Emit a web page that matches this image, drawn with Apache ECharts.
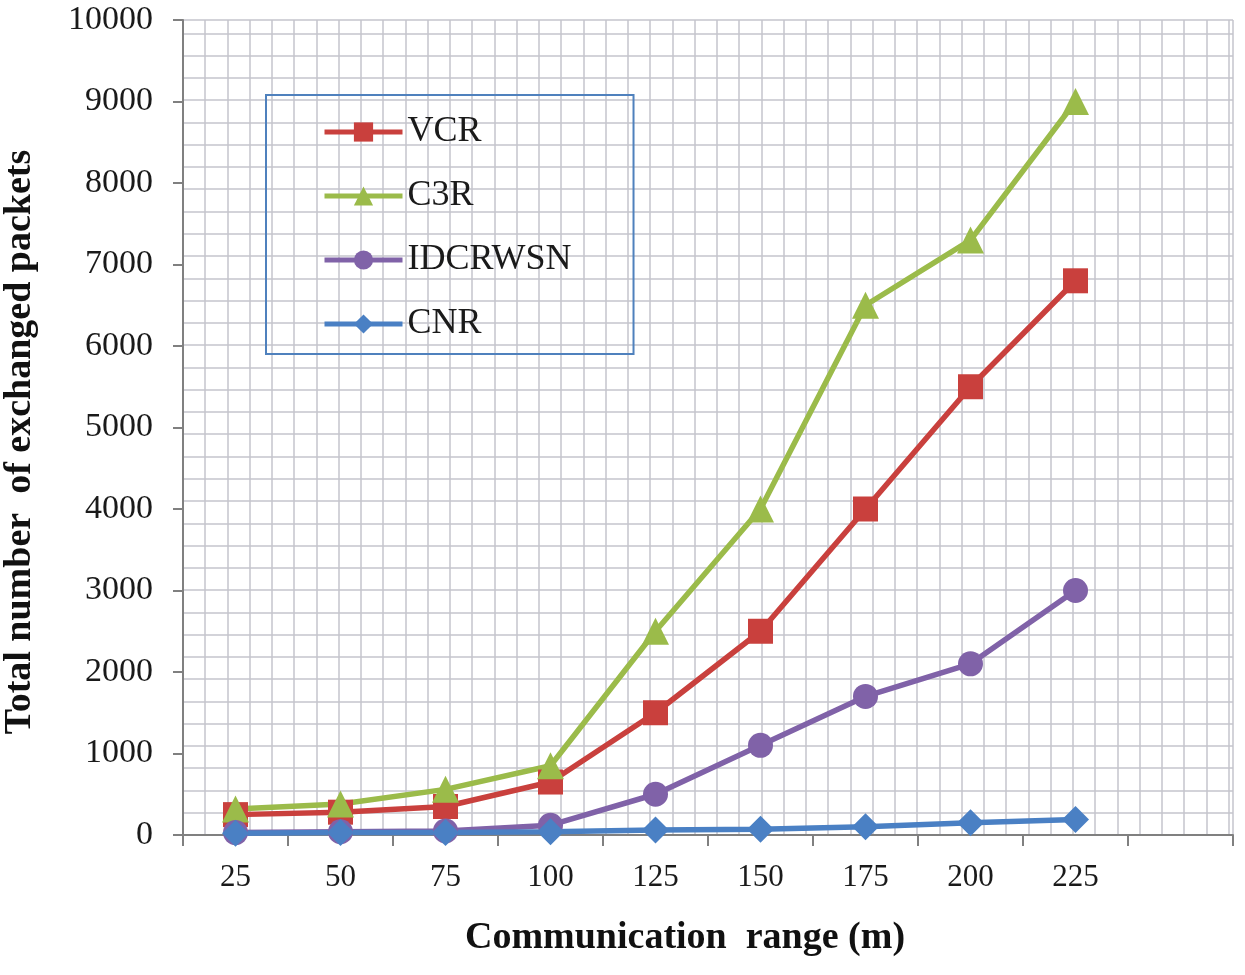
<!DOCTYPE html>
<html>
<head>
<meta charset="utf-8">
<script src="https://cdn.jsdelivr.net/npm/echarts@6/dist/echarts.min.js"></script>
<style>html,body{margin:0;padding:0;background:#fff;}#c{width:1245px;height:975px;}</style>
</head>
<body>
<div id="c"></div>
<script>
var categories = ['25', '50', '75', '100', '125', '150', '175', '200', '225', ''];
var vcr = [250, 280, 350, 650, 1500, 2500, 4000, 5500, 6800];
var c3r = [320, 380, 560, 850, 2500, 4000, 6500, 7300, 9000];
var idcrwsn = [30, 40, 50, 120, 500, 1100, 1700, 2100, 3000];
var cnr = [20, 30, 30, 40, 60, 70, 100, 150, 190];
var yTicks = [0, 1000, 2000, 3000, 4000, 5000, 6000, 7000, 8000, 9000, 10000];

var serif = 'Liberation Serif, Times New Roman, serif';
var chart = echarts.init(document.getElementById('c'));
function ser(name, data, color, symbol, size) {
  return {
    name: name, type: 'line', data: data, xAxisIndex: 0, yAxisIndex: 0,
    symbol: symbol, symbolSize: size,
    lineStyle: {color: color, width: 5.5},
    itemStyle: {color: color},
    emphasis: {disabled: true}
  };
}
chart.setOption({
  animation: false,
  grid: {left: 183, right: 12, top: 20, bottom: 140, containLabel: false, outerBoundsMode: 'none'},
  legend: {
    orient: 'vertical', left: 266, top: 95,
    padding: [19, 62, 12, 56],
    borderColor: '#4f81bd', borderWidth: 2,
    itemWidth: 78, itemHeight: 24, itemGap: 28,
    lineStyle: {width: 5},
    textStyle: {fontFamily: serif, fontSize: 36, lineHeight: 24, color: '#1a1a1a'},
    data: ['VCR', 'C3R', 'IDCRWSN', 'CNR']
  },
  xAxis: [{
    type: 'category', data: categories, boundaryGap: true,
    axisLine: {lineStyle: {color: '#808080', width: 2}},
    axisTick: {show: true, length: 11, interval: 0, lineStyle: {color: '#808080', width: 2}},
    axisLabel: {fontFamily: serif, fontSize: 31, color: '#1a1a1a', margin: 27, interval: 0},
    splitLine: {show: false},
    name: 'Communication  range (m)', nameLocation: 'middle', nameGap: 84,
    nameTextStyle: {fontFamily: serif, fontSize: 38, fontWeight: 'bold', color: '#111', padding: [0, 46, 0, 0]}
  }, {
    type: 'value', min: 0, max: 47.2, interval: 1, position: 'top',
    axisLine: {show: false}, axisTick: {show: false}, axisLabel: {show: false},
    splitLine: {show: true, lineStyle: {color: '#c4c4cc', width: 1.5}}
  }],
  yAxis: [{
    type: 'value', min: 0, max: 10000, interval: 1000,
    axisLine: {show: true, lineStyle: {color: '#808080', width: 2}},
    axisTick: {show: true, length: 10, lineStyle: {color: '#808080', width: 2}},
    axisLabel: {fontFamily: serif, fontSize: 34, color: '#1a1a1a', margin: 30,
      formatter: function (v) { return yTicks.indexOf(v) >= 0 ? String(v) : ''; }},
    splitLine: {show: false},
    name: 'Total number  of exchanged packets', nameLocation: 'middle', nameGap: 144, nameRotate: 90,
    nameTextStyle: {fontFamily: serif, fontSize: 38, fontWeight: 'bold', color: '#111', padding: [0, 29, 0, 0]}
  }, {
    type: 'value', min: 0, max: 36.6, interval: 1, position: 'right',
    axisLine: {show: false}, axisTick: {show: false}, axisLabel: {show: false},
    splitLine: {show: true, lineStyle: {color: '#c4c4cc', width: 1.5}}
  }],
  series: [
    ser('VCR', vcr, '#c9403d', 'rect', 25),
    ser('C3R', c3r, '#9bbb4a', 'triangle', 27),
    ser('IDCRWSN', idcrwsn, '#8062a8', 'circle', 25),
    ser('CNR', cnr, '#4a80c4', 'diamond', 27)
  ]
});
</script>
</body>
</html>
